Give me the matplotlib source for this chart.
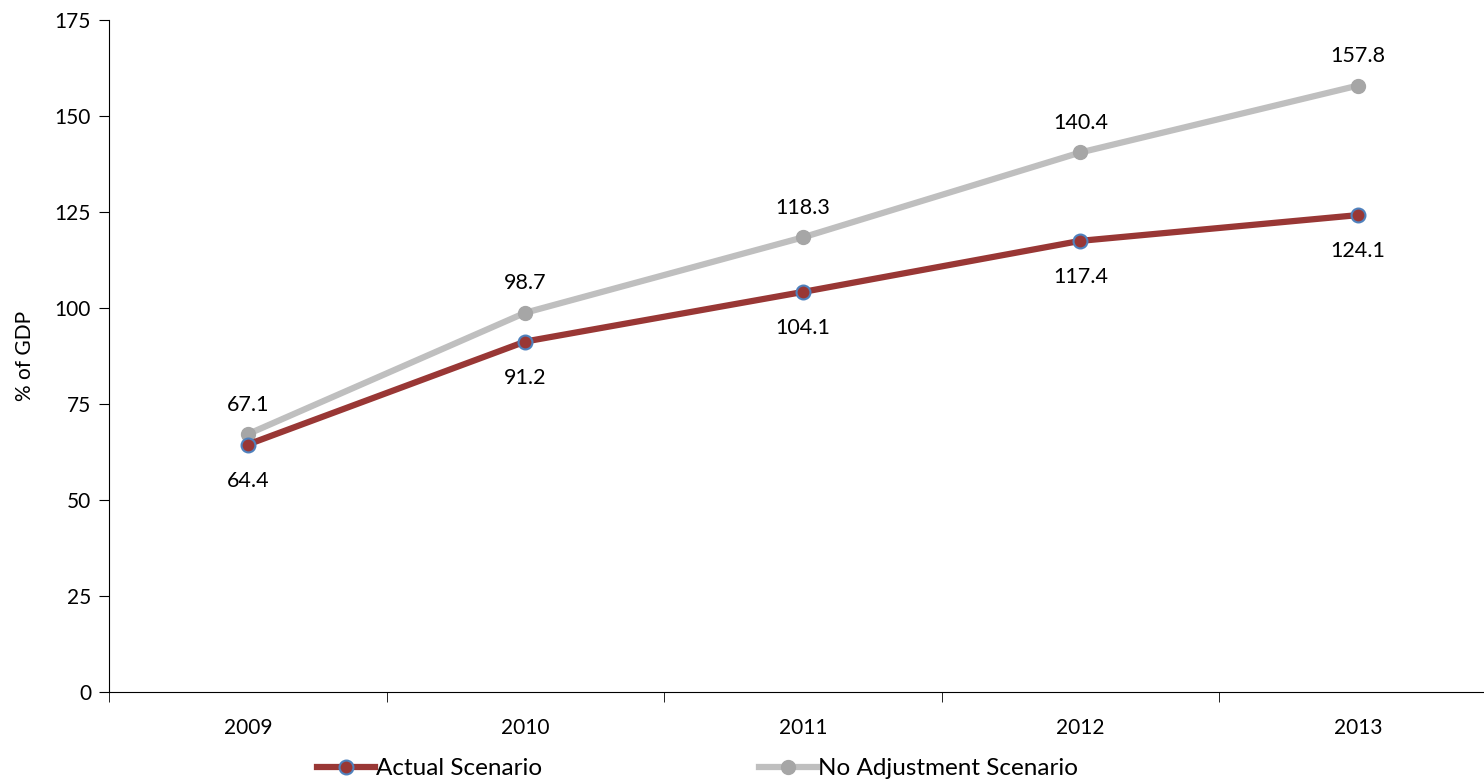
import numpy as np
import matplotlib.pyplot as plt

plt.rcParams['font.family'] = ['Lato', 'DejaVu Sans']

years = ['2009', '2010', '2011', '2012', '2013']
actual = [64.4, 91.2, 104.1, 117.4, 124.1]
no_adjust = [67.1, 98.7, 118.3, 140.4, 157.8]

red = '#993735'
gray_line = '#BFBFBF'
gray_mark = '#A6A6A6'

fig = plt.figure(figsize=(14.84, 7.81), dpi=100)
ax = fig.add_axes([0.0735, 0.114, 0.935, 0.861])

x = np.arange(len(years))
ax.plot(x, no_adjust, color=gray_line, lw=4.5, marker='o', ms=10,
        mfc=gray_mark, mec=gray_mark, label='No Adjustment Scenario', zorder=3)
ax.plot(x, actual, color=red, lw=4.5, marker='o', ms=10,
        mfc=red, mec='#4F81BD', mew=1.5, label='Actual Scenario', zorder=4)

for i in range(len(years)):
    ax.annotate(f'{no_adjust[i]:.1f}', (x[i], no_adjust[i]), xytext=(0, 14),
                textcoords='offset points', ha='center', va='bottom', fontsize=15.5)
    ax.annotate(f'{actual[i]:.1f}', (x[i], actual[i]), xytext=(0, -19),
                textcoords='offset points', ha='center', va='top', fontsize=15.5)

ax.set_xlim(-0.5, 4.5)
ax.set_ylim(0, 175)
ax.set_yticks(np.arange(0, 176, 25))
ax.set_xticks(x)
ax.set_xticklabels(years)
ax.set_xticks(np.arange(-0.5, 4.6, 1), minor=True)
ax.tick_params(axis='x', which='major', length=0, pad=19, labelsize=15)
ax.tick_params(axis='x', which='minor', length=7, direction='out')
ax.tick_params(axis='y', length=7, direction='out', labelsize=15, pad=6)
ax.set_ylabel('% of GDP', fontsize=15, labelpad=14)
for s in ['top', 'right']:
    ax.spines[s].set_visible(False)

h, l = ax.get_legend_handles_labels()
fig.legend(h[::-1], l[::-1], loc='center left', bbox_to_anchor=(0.202, 0.0154),
           ncol=2, frameon=False, fontsize=17.5, columnspacing=8.9,
           handlelength=2.4, handletextpad=0.05, borderpad=0.2)

fig.savefig('out.png', dpi=100)
